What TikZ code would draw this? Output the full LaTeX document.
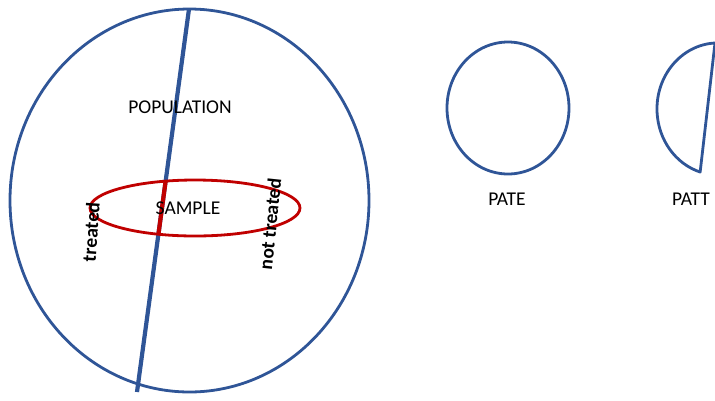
\documentclass[tikz,border=0pt]{standalone}
\usepackage{fontspec}
\setmainfont{Carlito}
\usetikzlibrary{shapes.geometric}
\definecolor{popblue}{HTML}{2F5597}
\definecolor{samplered}{HTML}{C00000}
\tikzset{
	blueline/.style={draw=popblue,line width=2.8pt},
	redline/.style={draw=samplered,line width=2.8pt},
	lbl/.style={font=\fontsize{19.5}{23}\selectfont},
	sidelbl/.style={font=\fontsize{19.5}{23}\selectfont\bfseries},
}

\begin{document}
\begin{tikzpicture}[x=1pt,y=-1pt]
	\useasboundingbox (0,0) rectangle (715,400);
	\clip (0,0) rectangle (715,400);
	% population and its split
	\node[ellipse,blueline,inner sep=0,outer sep=0,minimum width=359pt,minimum height=383pt] (pop) at (189.5,200.5) {};
	\coordinate (cuttop) at (189,9);
	\coordinate (cutbot) at (137,392);
	\draw[popblue,line width=4.2pt] (cuttop) -- (cutbot);
	% sample
	\node[ellipse,redline,inner sep=0,outer sep=0,minimum width=210pt,minimum height=56pt] (sample) at (195,208) {};
	\begin{scope}
		\clip (195,208) ellipse [x radius=105, y radius=28];
		\draw[samplered,line width=4.2pt] (cuttop) -- (cutbot);
	\end{scope}
	\node[lbl] (poplbl) at (180,107) {POPULATION};
	\node[lbl] (samplelbl) at (188,208) {SAMPLE};
	\node[sidelbl,rotate=86] (trt) at (91,232) {treated};
	\node[sidelbl,rotate=84] (ntrt) at (270,224) {not treated};
	% PATE
	\node[ellipse,blueline,inner sep=0,outer sep=0,minimum width=122pt,minimum height=132pt] (pate) at (508,108) {};
	\node[lbl] (patelbl) at (507,199) {PATE};
	% PATT
	\draw[blueline,line join=round] (715,43) arc[start angle=267.2,end angle=107,x radius=61,y radius=66] -- cycle;
	\node[lbl] (pattlbl) at (691,199) {PATT};
\end{tikzpicture}
\end{document}
